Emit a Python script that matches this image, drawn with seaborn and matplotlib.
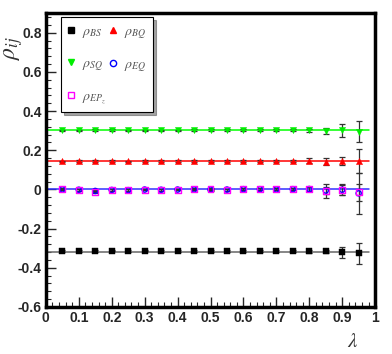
import numpy as np
import pandas as pd
import matplotlib
matplotlib.use("Agg")
import matplotlib.pyplot as plt
from matplotlib.lines import Line2D
from matplotlib.ticker import MultipleLocator
import seaborn as sns

# ------------------------
# DATA
# ------------------------
lam = [0.05, 0.10, 0.15, 0.20, 0.25, 0.30, 0.35, 0.40, 0.45, 0.50,
       0.55, 0.60, 0.65, 0.70, 0.75, 0.80, 0.85, 0.90, 0.95]

rho_bs = [-0.315, -0.315, -0.314, -0.313, -0.314, -0.312, -0.315, -0.314, -0.315, -0.315,
          -0.314, -0.315, -0.315, -0.313, -0.314, -0.316, -0.316, -0.322, -0.326]
err_bs = [0.004, 0.004, 0.004, 0.004, 0.004, 0.004, 0.004, 0.004, 0.004, 0.005,
          0.005, 0.005, 0.005, 0.005, 0.006, 0.007, 0.009, 0.027, 0.053]

rho_bq = [0.143, 0.144, 0.146, 0.146, 0.143, 0.144, 0.144, 0.146, 0.146, 0.145,
          0.146, 0.146, 0.143, 0.145, 0.145, 0.147, 0.140, 0.146, 0.145]
err_bq = [0.004, 0.004, 0.004, 0.004, 0.004, 0.004, 0.004, 0.004, 0.004, 0.005,
          0.005, 0.005, 0.005, 0.005, 0.006, 0.012, 0.018, 0.021, 0.060]

rho_sq = [0.301, 0.301, 0.302, 0.302, 0.301, 0.301, 0.301, 0.301, 0.302, 0.301,
          0.302, 0.301, 0.301, 0.301, 0.302, 0.301, 0.300, 0.302, 0.295]
err_sq = [0.004, 0.004, 0.004, 0.004, 0.004, 0.004, 0.004, 0.004, 0.004, 0.005,
          0.005, 0.005, 0.005, 0.005, 0.006, 0.007, 0.015, 0.032, 0.053]

rho_eq = [0.000, -0.002, -0.008, -0.003, -0.004, -0.001, -0.002, -0.001, 0.000, -0.001,
          -0.001, 0.001, 0.001, 0.000, 0.001, 0.002, -0.006, -0.002, -0.020]
err_eq = [0.004, 0.004, 0.004, 0.004, 0.004, 0.004, 0.004, 0.004, 0.004, 0.005,
          0.005, 0.005, 0.005, 0.005, 0.006, 0.012, 0.020, 0.027, 0.105]

rho_ep = [0.001, -0.002, -0.012, -0.003, -0.004, -0.001, -0.002, -0.001, 0.001, 0.000,
          -0.002, 0.002, 0.002, 0.000, 0.003, 0.002, -0.008, -0.003, -0.014]
err_ep = [0.004, 0.004, 0.004, 0.004, 0.004, 0.004, 0.004, 0.004, 0.004, 0.005,
          0.005, 0.005, 0.005, 0.005, 0.006, 0.010, 0.036, 0.027, 0.043]

# fitted constants (horizontal lines) and their x-range
fit_range = [0.0, 0.98]
fit_const = {"BS": -0.318, "BQ": 0.143, "SQ": 0.301, "EQ": 0.0}

series = ["BS", "BQ", "SQ", "EQ", "EP"]
labels = {"BS": r"$\rho_{BS}$", "BQ": r"$\rho_{BQ}$", "SQ": r"$\rho_{SQ}$",
          "EQ": r"$\rho_{EQ}$", "EP": r"$\rho_{EP_z}$"}

# ------------------------
# STYLE
# ------------------------
colors = {"BS": "black", "BQ": "#ff0000", "SQ": "#00ee00", "EQ": "#0000ff", "EP": "#ff00ff"}
line_colors = {"BS": "#666666", "BQ": "#ff0000", "SQ": "#00ff00", "EQ": "#3030ff"}
markers = {"BS": "s", "BQ": "^", "SQ": "v", "EQ": "o", "EP": "s"}
filled = {"BS": True, "BQ": True, "SQ": True, "EQ": False, "EP": False}
msize = {"BS": 16, "BQ": 20, "SQ": 20, "EQ": 14, "EP": 18}

df = pd.concat([
    pd.DataFrame({"lam": lam, "rho": vals, "err": errs, "pair": key})
    for key, vals, errs in [("BS", rho_bs, err_bs), ("BQ", rho_bq, err_bq),
                            ("SQ", rho_sq, err_sq), ("EQ", rho_eq, err_eq),
                            ("EP", rho_ep, err_ep)]
], ignore_index=True)

sns.set_style("ticks")
plt.rcParams["font.family"] = ["Liberation Sans Narrow", "Liberation Sans", "DejaVu Sans"]
plt.rcParams["mathtext.fontset"] = "stix"

fig = plt.figure(figsize=(3.92, 3.54), dpi=100)
ax = fig.add_axes([0.117, 0.133, 0.840, 0.830])

# fit lines
for key, c in fit_const.items():
    ax.plot(fit_range, [c, c], color=line_colors[key], lw=1.1, zorder=1)

# error bars
for key in series:
    sub = df[df["pair"] == key]
    ax.errorbar(sub["lam"], sub["rho"], yerr=sub["err"], fmt="none",
                ecolor="#333333", elinewidth=0.9, capsize=2.0, capthick=0.9, zorder=2)

# markers
for key in series:
    sub = df[df["pair"] == key]
    if filled[key]:
        sns.scatterplot(data=sub, x="lam", y="rho", ax=ax, marker=markers[key],
                        s=msize[key], color=colors[key], edgecolor=colors[key],
                        linewidth=0.3, zorder=3, legend=False)
    else:
        sns.scatterplot(data=sub, x="lam", y="rho", ax=ax, marker=markers[key],
                        s=msize[key], facecolor="none", edgecolor=colors[key],
                        linewidth=1.0, zorder=3, legend=False)

# ------------------------
# AXES
# ------------------------
ax.set_xlim(0, 1)
ax.set_ylim(-0.6, 0.9)
ax.xaxis.set_major_locator(MultipleLocator(0.1))
ax.xaxis.set_minor_locator(MultipleLocator(0.02))
ax.yaxis.set_major_locator(MultipleLocator(0.2))
ax.yaxis.set_minor_locator(MultipleLocator(0.04))
ax.set_yticks([-0.6, -0.4, -0.2, 0, 0.2, 0.4, 0.6, 0.8])
ax.set_yticklabels(["-0.6", "-0.4", "-0.2", "0", "0.2", "0.4", "0.6", "0.8"])
ax.set_xticks([0, 0.1, 0.2, 0.3, 0.4, 0.5, 0.6, 0.7, 0.8, 0.9, 1])
ax.set_xticklabels(["0", "0.1", "0.2", "0.3", "0.4", "0.5", "0.6", "0.7", "0.8", "0.9", "1"])
ax.tick_params(which="major", direction="in", length=7, width=1.0,
               labelsize=10, pad=3, top=False, right=False)
ax.tick_params(which="minor", direction="in", length=3.5, width=0.8, top=False, right=False)
for lab in ax.get_xticklabels() + ax.get_yticklabels():
    lab.set_fontweight("bold")
for sp in ax.spines.values():
    sp.set_visible(True)
    sp.set_linewidth(2.5)
    sp.set_color("black")

ax.set_xlabel("")
ax.set_ylabel("")
fig.text(0.035, 0.865, r"$\rho_{ij}$", rotation=90, fontsize=17, color="#333333",
         ha="center", va="center")
fig.text(0.90, 0.035, r"$\lambda$", fontsize=15, color="#333333", ha="center", va="center")

# ------------------------
# LEGEND
# ------------------------
order = ["BS", "SQ", "EP", "BQ", "EQ"]
handles = []
for key in order:
    if filled[key]:
        h = Line2D([], [], ls="none", marker=markers[key], markersize=4,
                   color=colors[key], markeredgecolor=colors[key])
    else:
        h = Line2D([], [], ls="none", marker=markers[key], markersize=4.5,
                   markerfacecolor="none", markeredgecolor=colors[key], markeredgewidth=1.0)
    handles.append(h)
leg = ax.legend(handles, [labels[k] for k in order], ncol=2, loc="upper left",
                bbox_to_anchor=(0.046, 0.986), borderaxespad=0, frameon=True,
                fancybox=False, shadow=True, fontsize=10, handlelength=0.5,
                handletextpad=0.5, columnspacing=0.3, labelspacing=1.15,
                borderpad=0.5, labelcolor="#555555")
leg.get_frame().set_edgecolor("black")
leg.get_frame().set_linewidth(0.8)

fig.savefig("out.png", dpi=100)
